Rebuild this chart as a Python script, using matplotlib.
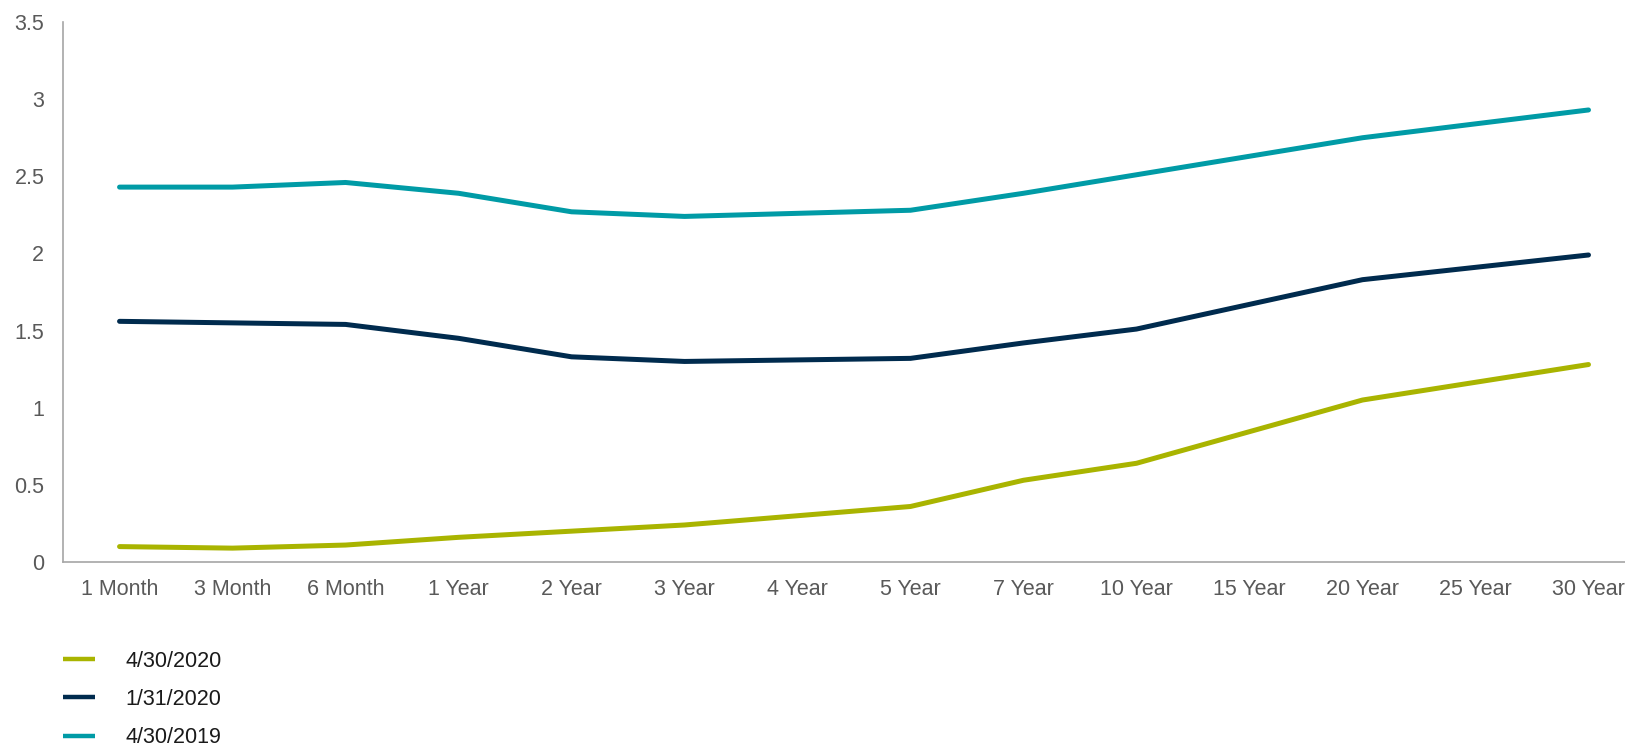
import numpy as np
import matplotlib
matplotlib.use("Agg")
import matplotlib.pyplot as plt

plt.rcParams['font.family'] = ['Liberation Sans', 'DejaVu Sans']

# treasury yield curves (%)
maturities = ['1 Month', '3 Month', '6 Month', '1 Year', '2 Year', '3 Year', '4 Year',
              '5 Year', '7 Year', '10 Year', '15 Year', '20 Year', '25 Year', '30 Year']
y_apr2020 = [0.10, 0.09, 0.11, 0.16, 0.20, 0.24, 0.30, 0.36, 0.53, 0.64, 0.845, 1.05, 1.165, 1.28]
y_jan2020 = [1.56, 1.55, 1.54, 1.45, 1.33, 1.30, 1.31, 1.32, 1.42, 1.51, 1.67, 1.83, 1.91, 1.99]
y_apr2019 = [2.43, 2.43, 2.46, 2.39, 2.27, 2.24, 2.26, 2.28, 2.39, 2.51, 2.63, 2.75, 2.84, 2.93]

labels = ['4/30/2020', '1/31/2020', '4/30/2019']
colors = ['#A9B400', '#002B4E', '#009BA6']

fig = plt.figure(figsize=(16.25, 7.44), dpi=100)
ax = fig.add_axes([0.0388, 0.2446, 0.9735, 0.7258])

x = np.arange(len(maturities))
for ys, lab, c in zip([y_apr2020, y_jan2020, y_apr2019], labels, colors):
    ax.plot(x, ys, color=c, lw=3.6, label=lab, solid_capstyle='round')

ax.set_xlim(-0.5, len(maturities) - 0.5)
ax.set_ylim(0, 3.5)
ax.set_yticks(np.arange(0, 3.51, 0.5))
ax.set_yticklabels(['0', '0.5', '1', '1.5', '2', '2.5', '3', '3.5'])
ax.set_xticks(x)
ax.set_xticklabels(maturities)
ax.tick_params(axis='both', length=0, labelsize=15.5, labelcolor='#595959')
ax.tick_params(axis='y', pad=13.5)
ax.tick_params(axis='x', pad=12)

for s in ['top', 'right']:
    ax.spines[s].set_visible(False)
for s in ['left', 'bottom']:
    ax.spines[s].set_color('#A6A6A6')
    ax.spines[s].set_linewidth(1.2)

leg = fig.legend(loc='upper left', bbox_to_anchor=(0.0268, 0.1516), frameon=False,
                 fontsize=15.5, handlelength=1.49, handletextpad=1.4, labelspacing=0.81)
for t in leg.get_texts():
    t.set_color('#1a1a1a')
for h in leg.get_lines():
    h.set_solid_capstyle('butt')
    h.set_linewidth(3.2)

fig.savefig('out.png', dpi=100)
